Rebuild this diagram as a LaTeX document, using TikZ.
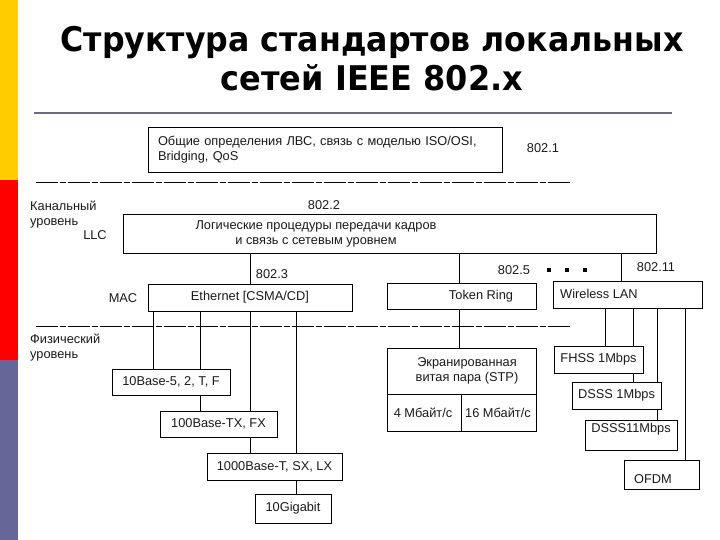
\documentclass[tikz,border=0pt]{standalone}
\usepackage{fontspec}
\setmainfont{Liberation Sans}
\newfontfamily\titlefont{DejaVu Sans}
\usetikzlibrary{backgrounds}
\definecolor{barY}{HTML}{FFCC00}
\definecolor{barR}{HTML}{FF0000}
\definecolor{barP}{HTML}{666699}
\definecolor{ruleC}{HTML}{6B6B80}
\definecolor{txt}{HTML}{1A1A1A}
\tikzset{
  box/.style={draw=black, fill=white, line width=0.8pt, inner sep=0pt, text=txt,
    font=\fontsize{12.8}{15}\selectfont, align=center},
  lbl/.style={inner sep=0pt, text=txt, font=\fontsize{12.8}{15}\selectfont},
  conn/.style={draw=black, line width=0.8pt},
  layerline/.style={draw=black, line width=0.8pt, dash pattern=on 22pt off 2pt on 6pt off 2pt},
  dotsq/.style={fill=black, inner sep=0pt, minimum size=3.5pt},
  ttl/.style={inner sep=0pt, anchor=base, font=\titlefont\bfseries\fontsize{34}{40}\selectfont}
}
\begin{document}
\begin{tikzpicture}[x=1pt,y=-1pt]
\useasboundingbox (0,0) rectangle (720,540);
% side bar
\fill[barY] (0,0) rectangle (18,180);
\fill[barR] (0,180) rectangle (18,360);
\fill[barP] (0,360) rectangle (18,540);
% title
\node[ttl] (t1) at (372,52) {\scalebox{0.93}[1]{Структура стандартов локальных}};
\node[ttl] (t2) at (372,91) {\scalebox{0.94}[1]{сетей IEEE 802.x}};
\draw[ruleC, line width=2.2pt] (34,113) -- (672,113);
% layer lines
\draw[layerline] (36,182) -- (572,182);
\draw[layerline] (36,326) -- (570,326);
% boxes
\node[box, minimum width=354pt, minimum height=45pt, text width=334pt, align=left] (b8021) at (325,149.5)
  {Общие определения ЛВС, связь с моделью ISO/OSI,\\Bridging, QoS};
\node[box, minimum width=533pt, minimum height=39pt] (llc) at (389.5,233.5) {};
\node[lbl, align=center] (llct) at (316,233.5) {Логические процедуры передачи кадров\\и связь с сетевым уровнем};
\node[box, minimum width=204pt, minimum height=27pt] (eth) at (250,297.5) {Ethernet [CSMA/CD]};
\node[box, minimum width=149pt, minimum height=26pt] (tr) at (461.5,296) {};
\node[lbl] (trt) at (481,296.5) {Token Ring};
\node[box, minimum width=149pt, minimum height=27pt] (wlan) at (627.5,294.5) {};
\node[lbl, anchor=west] (wlant) at (560,293.5) {Wireless LAN};
\node[box, minimum width=118pt, minimum height=26pt] (b10) at (171,382) {10Base-5, 2, T, F};
\node[box, minimum width=117pt, minimum height=26pt] (b100) at (218.5,424) {100Base-TX, FX};
\node[box, minimum width=135pt, minimum height=27pt] (b1000) at (274.5,466.5) {1000Base-T, SX, LX};
\node[box, minimum width=76pt, minimum height=29pt] (b10g) at (293,508.5) {10Gigabit};
\node[box, minimum width=149pt, minimum height=83pt] (stp) at (461.5,389.5) {};
\node[lbl, align=center] (stpt) at (467,371) {Экранированная\\витая пара (STP)};
\draw[conn] (stp.west |- 0,394) coordinate (stpL) -- (stp.east |- 0,394) coordinate (stpR);
\draw[conn] (461,394) coordinate (stpM) -- (stp.south -| 461,0);
\node[lbl] (s4) at (423,413) {4 Мбайт/с};
\node[lbl] (s16) at (498,413) {16 Мбайт/с};
\node[box, minimum width=89pt, minimum height=27pt] (fhss) at (598.5,359.5) {FHSS 1Mbps};
\node[box, minimum width=89pt, minimum height=27pt] (dsss1) at (616.5,395.5) {DSSS 1Mbps};
\node[box, minimum width=92pt, minimum height=30pt] (dsss11) at (631,435) {};
\node[lbl] (dsss11t) at (631,429) {DSSS11Mbps};
\node[box, minimum width=75pt, minimum height=29pt] (ofdm) at (661.5,474.5) {};
\node[lbl] (ofdmt) at (653,479) {OFDM};
% labels
\node[lbl] (l8021) at (543,148) {802.1};
\node[lbl] (l8022) at (324,205) {802.2};
\node[lbl, anchor=west, align=left] (kan) at (30,214.5) {Канальный\\уровень};
\node[lbl] (llcl) at (95,235) {LLC};
\node[lbl] (l8023) at (272,274) {802.3};
\node[lbl] (mac) at (123,298) {MAC};
\node[lbl] (l8025) at (514,270) {802.5};
\node[dotsq] (d1) at (549,270) {};
\node[dotsq] (d2) at (567,270) {};
\node[dotsq] (d3) at (585,270) {};
\node[lbl] (l80211) at (656,267) {802.11};
\node[lbl, anchor=west, align=left] (fiz) at (30,348) {Физический\\уровень};
% connectors
\begin{scope}[on background layer]
\fill[white] (18,0) rectangle (720,540);
\draw[conn] (llc.south -| 250,0) -- (eth.north -| 250,0);
\draw[conn] (llc.south -| 459,0) -- (tr.north -| 459,0);
\draw[conn] (llc.south -| 621,0) -- (wlan.north -| 621,0);
\draw[conn] (eth.south -| 153,0) -- (b10.north -| 153,0);
\draw[conn] (eth.south -| 200,0) -- (b100.north -| 200,0);
\draw[conn] (eth.south -| 250,0) -- (b1000.north -| 250,0);
\draw[conn] (eth.south -| 296,0) -- (b10g.north -| 296,0);
\draw[conn] (tr.south -| 459,0) -- (stp.north -| 459,0);
\draw[conn] (wlan.south -| 605,0) -- (fhss.north -| 605,0);
\draw[conn] (wlan.south -| 633,0) -- (dsss1.north -| 633,0);
\draw[conn] (wlan.south -| 657,0) -- (dsss11.north -| 657,0);
\draw[conn] (wlan.south -| 685,0) -- (ofdm.north -| 685,0);
\end{scope}
\end{tikzpicture}
\end{document}
